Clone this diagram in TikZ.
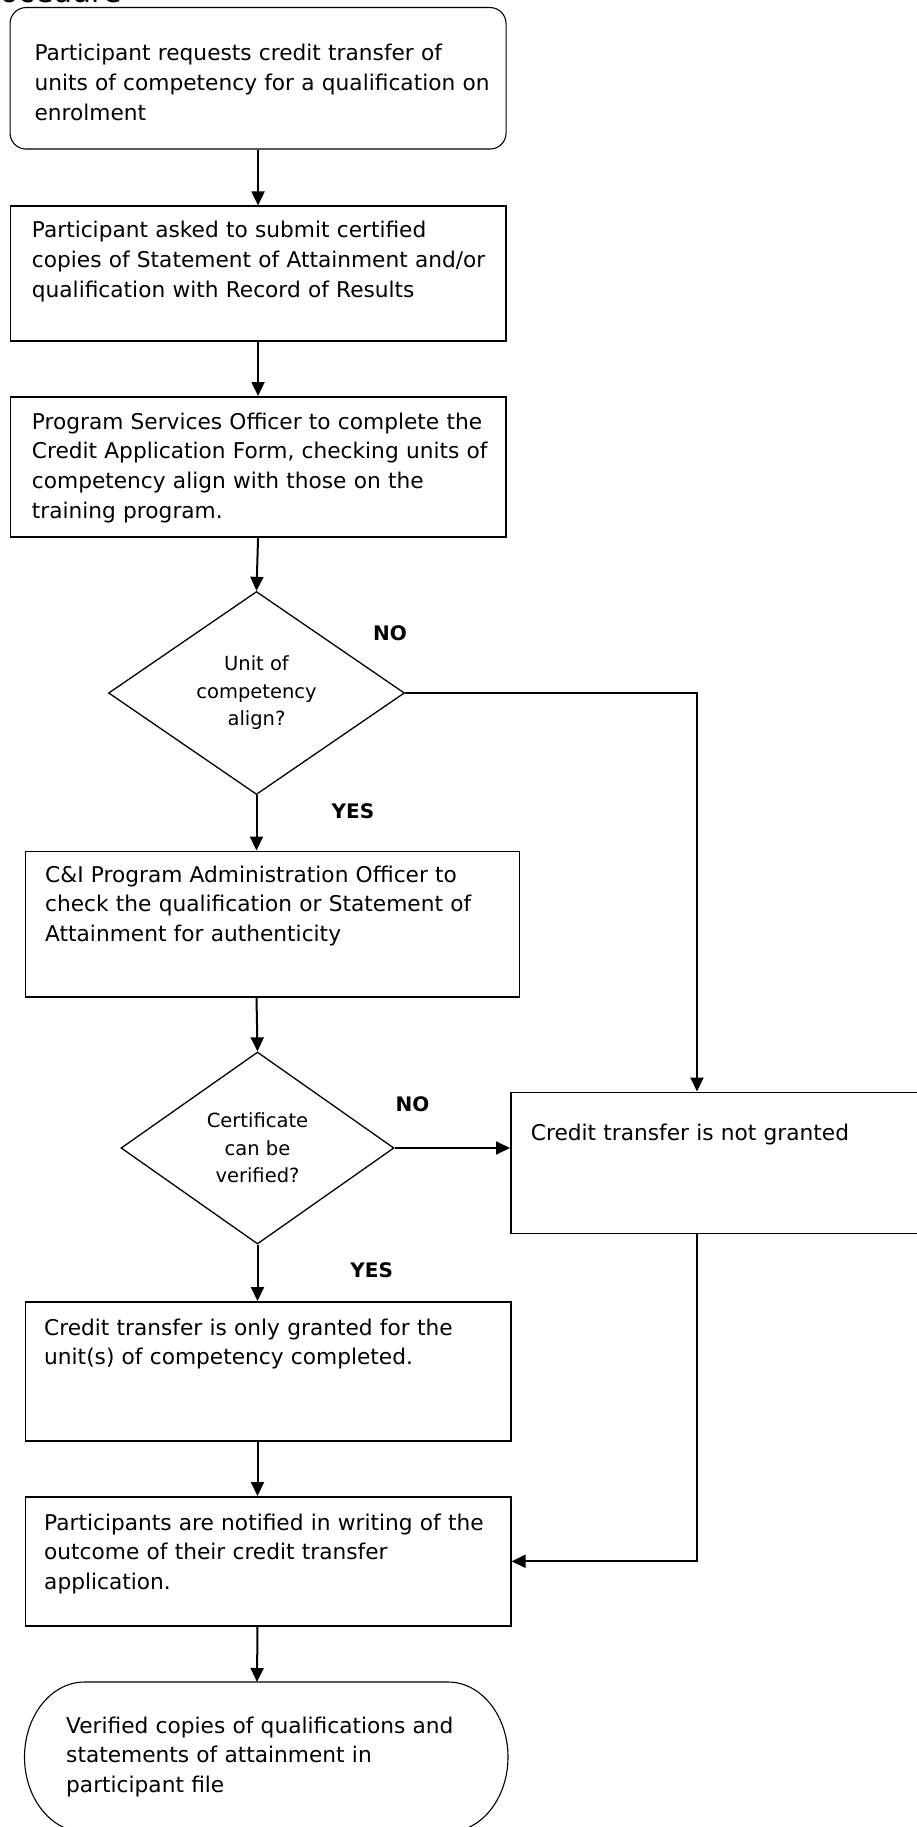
\documentclass[tikz,border=0pt]{standalone}
\usepackage{fontspec}
\setmainfont{DejaVu Sans}
\usetikzlibrary{shapes.geometric,arrows.meta}
\tikzset{
  proc/.style={draw, line width=1.6pt, anchor=north west, inner sep=0pt},
  txt/.style={anchor=base west, inner sep=0pt, text width=480pt, align=left, font=\fontsize{21.7}{29.7}\selectfont},
  decision/.style={draw, diamond, line width=1.3pt, inner sep=0pt, align=center, font=\fontsize{19.5}{27.5}\selectfont},
  answer/.style={inner sep=0pt, font=\fontsize{20}{24}\selectfont\bfseries},
  arr/.style={line width=2pt, -{Triangle[length=14pt,width=13pt]}},
  link/.style={line width=2pt}
}
\begin{document}
\begin{tikzpicture}[x=1pt, y=-1pt]
\useasboundingbox (0,0) rectangle (917,1827);
% heading, mostly above the page
\node[anchor=base east, inner sep=0pt, font=\fontsize{30}{30}\selectfont] (title) at (122,3) {Procedure};
% boxes
\node[proc, rounded corners=16pt, line width=1.1pt, minimum width=496pt, minimum height=141.5pt] (b1) at (9.5,7) {};
\node[proc, minimum width=495.5pt, minimum height=134.5pt] (b2) at (9.5,205.5) {};
\node[proc, minimum width=495.5pt, minimum height=140pt] (b3) at (9.5,396) {};
\node[decision, minimum width=296pt, minimum height=203pt] (d1) at (256.5,693) {Unit of\\competency\\align?};
\node[proc, minimum width=494pt, minimum height=145.5pt] (b4) at (24.5,850.5) {};
\node[decision, minimum width=273pt, minimum height=192pt] (d2) at (257.5,1148) {Certificate\\can be\\verified?};
\node[proc, minimum width=420pt, minimum height=141pt] (b5) at (510,1091.5) {};
\node[proc, minimum width=485.5pt, minimum height=139pt] (b6) at (24.5,1301) {};
\node[proc, minimum width=485.5pt, minimum height=129pt] (b7) at (24.5,1496) {};
% terminal, its lower edge falls off the page
\draw[line width=1.1pt] (84.5,1682) -- (448,1682) arc[start angle=-90, end angle=90, x radius=60, y radius=75]
  -- (84.5,1832) arc[start angle=90, end angle=270, x radius=60, y radius=75];
\coordinate (t8) at (257,1682);
% texts
\node[txt] (t1) at (34.3,61) {Participant requests credit transfer of\\units of competency for a qualification on\\enrolment};
\node[txt] (t2) at (31.7,238) {Participant asked to submit certified\\copies of Statement of Attainment and/or\\qualification with Record of Results};
\node[txt] (t3) at (31.7,429) {Program Services Officer to complete the\\Credit Application Form, checking units of\\competency align with those on the\\training program.};
\node[txt] (t4) at (45,882) {C\&I Program Administration Officer to\\check the qualification or Statement of\\Attainment for authenticity};
\node[txt] (t5) at (530.7,1140) {Credit transfer is not granted};
\node[txt] (t6) at (44,1335) {Credit transfer is only granted for the\\unit(s) of competency completed.};
\node[txt] (t7) at (44,1530) {Participants are notified in writing of the\\outcome of their credit transfer\\application.};
\node[txt] (b8) at (66,1733) {Verified copies of qualifications and\\statements of attainment in\\participant file};
% answers
\node[answer] (no1) at (390,633) {NO};
\node[answer] (yes1) at (353,811) {YES};
\node[answer] (no2) at (412.5,1104.5) {NO};
\node[answer] (yes2) at (371.7,1270) {YES};
% connectors
\coordinate (j1) at (697,693);
\draw[arr] (b1.south) -- (b2.north);
\draw[arr] (b2.south) -- (b3.north);
\draw[arr] (b3.south) -- (d1.north);
\draw[arr] (d1.south) -- (d1.south |- b4.north);
\draw[arr] (b4.south -| d1) -- (d2.north);
\draw[arr] (d2.south) -- (d2.south |- b6.north);
\draw[arr] (b6.south -| d2) -- (b7.north -| d2);
\draw[arr] (b7.south -| d2) -- (t8);
\draw[arr] (d1.east) -- (j1) -- (j1 |- b5.north);
\draw[arr] (d2.east) -- (d2.east -| b5.west);
\draw[arr] (b5.south -| j1) |- (b7.east);
\end{tikzpicture}
\end{document}
